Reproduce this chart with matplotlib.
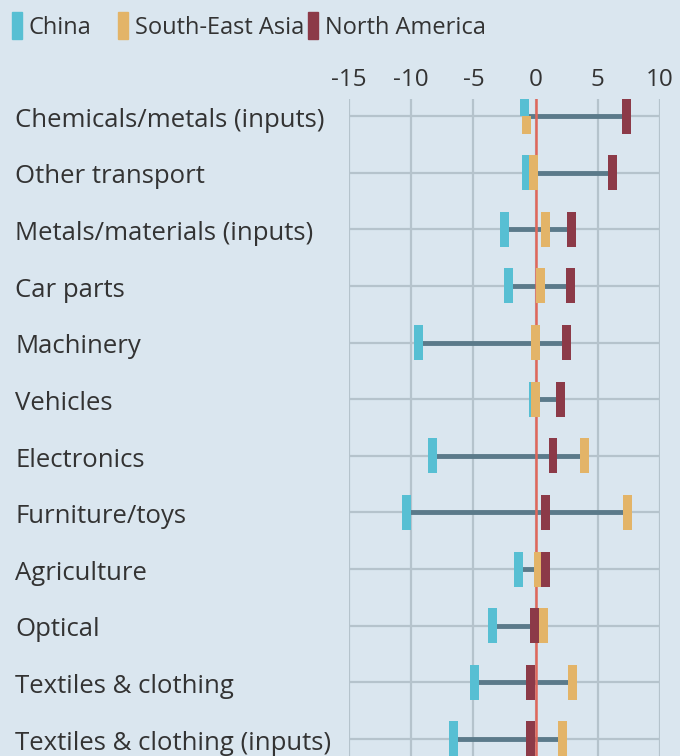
import matplotlib
matplotlib.use("Agg")
import matplotlib.pyplot as plt
from matplotlib.patches import Rectangle
from matplotlib import transforms

# Data
categories = ["Chemicals/metals (inputs)", "Other transport", "Metals/materials (inputs)",
              "Car parts", "Machinery", "Vehicles", "Electronics", "Furniture/toys",
              "Agriculture", "Optical", "Textiles & clothing", "Textiles & clothing (inputs)"]
china = [-0.9, -0.7, -2.5, -2.2, -9.4, -0.2, -8.3, -10.4, -1.4, -3.5, -4.9, -6.6]
sea = [-0.7, -0.2, 0.8, 0.4, 0.0, 0.0, 3.9, 7.4, 0.2, 0.65, 3.0, 2.2]
north_america = [7.3, 6.2, 2.9, 2.8, 2.5, 2.0, 1.4, 0.8, 0.8, -0.1, -0.4, -0.4]
series_names = ["China", "South-East Asia", "North America"]
x_ticks = [-15, -10, -5, 0, 5, 10]
split_rows = [0]  # China/SEA shown half-height, stacked

BG = "#dae6ef"
GRID = "#b5c3cc"
C_CHINA = "#57bfd3"
C_SEA = "#e3b468"
C_NA = "#8c3a48"
C_LINK = "#5b7a8a"
C_ZERO = "#e0675a"
TXT = "#333333"

plt.rcParams["font.family"] = ["Open Sans", "DejaVu Sans"]

fig = plt.figure(figsize=(6.8, 7.56), dpi=100, facecolor=BG)
ax = fig.add_axes([349 / 680, 0, 311 / 680, 1 - 99 / 756])
ax.set_facecolor(BG)
ax.set_xlim(-15, 10)
n = len(categories)
ax.set_ylim(n - 1 + 0.3, -0.3)

for s in ax.spines.values():
    s.set_visible(False)

ax.xaxis.tick_top()
ax.set_xticks(x_ticks)
ax.set_xticklabels([str(t) for t in x_ticks])
ax.tick_params(axis="x", length=0, pad=5, labelsize=17.5, labelcolor=TXT)
ax.set_yticks(range(n))
ax.set_yticklabels([])
ax.tick_params(axis="y", length=0)
ax.grid(True, color=GRID, linewidth=1.6, zorder=0)
ax.set_axisbelow(True)

ax.axvline(0, color=C_ZERO, linewidth=1.8, zorder=2)

ys = list(range(n))
lo = [min(a, b, c) for a, b, c in zip(china, sea, north_america)]
hi = [max(a, b, c) for a, b, c in zip(china, sea, north_america)]
ax.hlines(ys, lo, hi, color=C_LINK, linewidth=3.5, zorder=1.5)

w = 0.72
h = 0.62
for i in ys:
    if i in split_rows:
        ax.bar(china[i], h / 2, width=w, bottom=i - h / 2, color=C_CHINA, zorder=3)
        ax.bar(sea[i], h / 2, width=w, bottom=i, color=C_SEA, zorder=3)
    else:
        ax.bar(china[i], h, width=w, bottom=i - h / 2, color=C_CHINA, zorder=3)
        ax.bar(sea[i], h, width=w, bottom=i - h / 2, color=C_SEA, zorder=4)
    ax.bar(north_america[i], h, width=w, bottom=i - h / 2, color=C_NA, zorder=5)

# category labels, left aligned at the figure edge
trans = transforms.blended_transform_factory(fig.transFigure, ax.transData)
for i, cat in enumerate(categories):
    ax.text(15 / 680, i + 0.19, cat, transform=trans, ha="left", va="baseline",
            fontsize=18.5, color=TXT, clip_on=False)

# legend
leg_x = [12, 118, 308]
for x, name, col in zip(leg_x, series_names, [C_CHINA, C_SEA, C_NA]):
    fig.patches.append(Rectangle((x / 680, 1 - 39 / 756), 10 / 680, 27 / 756,
                                 transform=fig.transFigure, color=col))
    fig.text((x + 17) / 680, 1 - 34 / 756, name, ha="left", va="baseline",
             fontsize=17, color=TXT)

fig.savefig("out.png", dpi=100, facecolor=BG)
